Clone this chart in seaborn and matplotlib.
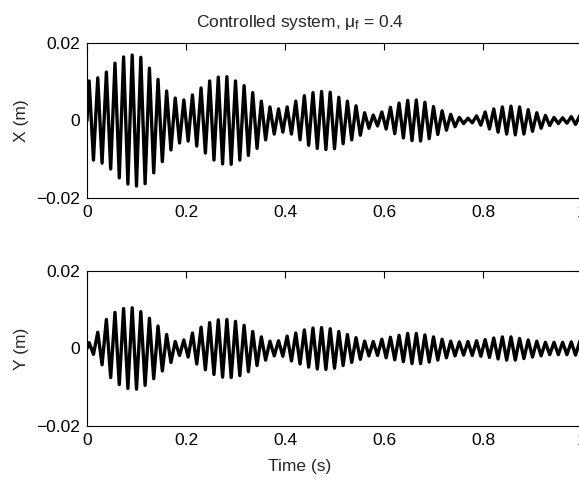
import numpy as np
import pandas as pd
import matplotlib
matplotlib.use("Agg")
import matplotlib.pyplot as plt
import seaborn as sns

# peak amplitude of each oscillation cycle (mm)
x_peaks_mm = [10.2, 11.0, 12.5, 14.8, 16.4, 16.9, 16.3, 13.5, 10.6, 7.6,
              5.8, 5.3, 6.6, 8.4, 10.2, 11.2, 11.3, 10.2, 9.0, 7.2,
              5.0, 3.5, 3.0, 3.5, 5.0, 6.4, 7.2, 7.5, 7.3, 6.0,
              5.0, 3.8, 2.0, 1.4, 2.2, 3.4, 4.5, 5.2, 5.3, 4.7,
              3.6, 2.5, 1.6, 0.8, 0.6, 1.2, 2.2, 3.0, 3.5, 3.7,
              3.5, 2.8, 2.0, 1.3, 0.8, 0.7, 1.0, 1.3]
y_peaks_mm = [1.5, 4.2, 7.5, 9.3, 10.3, 10.5, 9.5, 7.8, 5.8, 3.6,
              1.8, 2.2, 4.0, 5.5, 6.7, 7.4, 7.5, 7.0, 6.0, 4.4,
              3.0, 1.9, 2.0, 3.2, 4.0, 4.8, 5.3, 5.4, 5.1, 4.4,
              3.6, 2.8, 1.9, 1.8, 2.4, 2.9, 3.4, 3.9, 3.9, 3.5,
              3.0, 2.4, 1.9, 1.7, 1.8, 2.0, 2.3, 2.7, 3.0, 3.0,
              2.6, 2.2, 1.9, 1.6, 1.6, 1.6, 1.7, 1.9]
cycle_period = 1 / 57.5  # s

x_ticks = [0, 0.2, 0.4, 0.6, 0.8, 1]
x_ticklabels = ["0", "0.2", "0.4", "0.6", "0.8", "1"]
y_ticks = [-0.02, 0, 0.02]
y_ticklabels = ["\u22120.02", "0", "0.02"]


def peaks_to_frame(peaks_mm):
    # each cycle: positive peak then negative peak
    t = [0.0]
    v = [0.0]
    for k, a in enumerate(peaks_mm):
        t += [(k + 0.25) * cycle_period, (k + 0.75) * cycle_period]
        v += [a / 1000, -a / 1000]
    return pd.DataFrame({"t": t, "v": v})


df_x = peaks_to_frame(x_peaks_mm)
df_y = peaks_to_frame(y_peaks_mm)

sns.set_style("white")
plt.rcParams["font.family"] = ["Liberation Sans", "DejaVu Sans"]
plt.rcParams["mathtext.fontset"] = "custom"
plt.rcParams["mathtext.rm"] = "Liberation Sans"
plt.rcParams["mathtext.it"] = "Liberation Sans"

W, H = 579, 478
fig = plt.figure(figsize=(W / 100, H / 100), dpi=100)
ax1 = fig.add_axes([87 / W, (H - 198) / H, 495 / W, 155 / H])
ax2 = fig.add_axes([87 / W, (H - 426) / H, 495 / W, 155 / H])

for ax, df, lab in [(ax1, df_x, "X (m)"), (ax2, df_y, "Y (m)")]:
    sns.lineplot(data=df, x="t", y="v", ax=ax, color="black", linewidth=2.4,
                 sort=False, estimator=None, solid_joinstyle="round")
    ax.set_xlim(0, 1)
    ax.set_ylim(-0.02, 0.02)
    ax.set_xticks(x_ticks)
    ax.set_xticklabels(x_ticklabels)
    ax.set_yticks(y_ticks)
    ax.set_yticklabels(y_ticklabels)
    ax.tick_params(direction="in", length=5, width=0.8, labelsize=12.5,
                   top=True, right=True, pad=5, colors="black")
    for s in ax.spines.values():
        s.set_color("black")
        s.set_linewidth(0.8)
    ax.set_ylabel(lab, fontsize=12.5)
    ax.yaxis.set_label_coords(-0.118, 0.5)
    ax.set_xlabel("")

ax2.set_xlabel("Time (s)", fontsize=12.5, va="top")
ax2.xaxis.set_label_coords((300 - 87) / 495, -0.21)

fig.text(300 / W, (H - 27) / H, r"Controlled system, $\mathrm{\mu_f}$ = 0.4",
         ha="center", va="baseline", fontsize=12.5)

fig.savefig("out.png", dpi=100)
